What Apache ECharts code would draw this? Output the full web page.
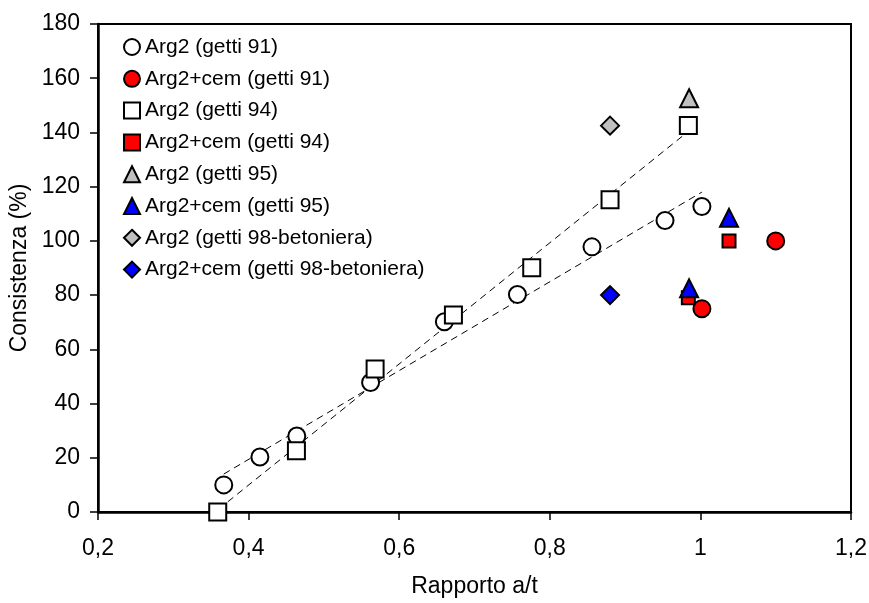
<!DOCTYPE html>
<html>
<head>
<meta charset="utf-8">
<script src="https://cdn.jsdelivr.net/npm/echarts@6/dist/echarts.min.js"></script>
<style>
  html, body { margin: 0; padding: 0; background: #fff; }
  #chart { width: 869px; height: 603px; }
</style>
</head>
<body>
<div id="chart"></div>
<script>
// Consistenza vs rapporto a/t, one array pair per series
const arg2_91_x = [0.367, 0.415, 0.464, 0.562, 0.660, 0.757, 0.856, 0.953, 1.002];
const arg2_91_y = [10, 20.3, 28, 47.8, 70.2, 80.2, 97.8, 107.5, 112.7];

const arg2cem_91_x = [1.100, 1.002];
const arg2cem_91_y = [100, 75];

const arg2_94_x = [0.359, 0.4635, 0.568, 0.672, 0.776, 0.880, 0.984];
const arg2_94_y = [0, 22.6, 52.7, 72.7, 90.1, 115.2, 142.6];

const arg2cem_94_x = [1.038, 0.984];
const arg2cem_94_y = [100, 79];

const arg2_95_x = [0.985];
const arg2_95_y = [152.6];

const arg2cem_95_x = [1.038, 0.985];
const arg2cem_95_y = [108.5, 82.5];

const arg2_98_x = [0.880];
const arg2_98_y = [142.5];

const arg2cem_98_x = [0.880];
const arg2cem_98_y = [80];

// Trend line end points (getti 94 and getti 91)
const trend94_x = [0.36, 0.984];
const trend94_y = [1, 140.4];
const trend91_x = [0.367, 1.002];
const trend91_y = [14, 118];

const xTicks = { min: 0.2, max: 1.2, step: 0.2 };
const yTicks = { min: 0, max: 180, step: 20 };

const narrow = "'Liberation Sans Narrow', 'Arial Narrow', 'Liberation Sans', Arial, sans-serif";
const regular = "'Liberation Sans', Arial, sans-serif";

function pairs(xs, ys) { return xs.map((x, i) => [x, ys[i]]); }

function scatter(name, xs, ys, symbol, size, fill) {
  return {
    name, type: 'scatter', symbol, symbolSize: size,
    data: pairs(xs, ys),
    itemStyle: { color: fill, borderColor: '#000', borderWidth: 2, opacity: 1 },
    emphasis: { disabled: true },
    z: 3
  };
}

function trend(name, xs, ys) {
  return {
    name, type: 'line', data: pairs(xs, ys), symbol: 'none', silent: true,
    lineStyle: { color: '#000', width: 1, type: [7, 5] }, z: 2
  };
}

const names = [
  'Arg2 (getti 91)', 'Arg2+cem (getti 91)',
  'Arg2 (getti 94)', 'Arg2+cem (getti 94)',
  'Arg2 (getti 95)', 'Arg2+cem (getti 95)',
  'Arg2 (getti 98-betoniera)', 'Arg2+cem (getti 98-betoniera)'
];

const chart = echarts.init(document.getElementById('chart'), null, { renderer: 'canvas' });
chart.setOption({
  animation: false,
  backgroundColor: '#fff',
  grid: {
    left: 98, top: 24, right: 18, bottom: 91,
    show: true, borderColor: '#000', borderWidth: 2, backgroundColor: 'transparent',
    containLabel: false, outerBoundsMode: 'none'
  },
  legend: {
    data: names, orient: 'vertical', left: 123, top: 36, padding: 0,
    itemWidth: 16, itemHeight: 16, itemGap: 9.8, selectedMode: false,
    textStyle: { fontFamily: regular, fontSize: 21, color: '#000', lineHeight: 22 }
  },
  xAxis: {
    type: 'value', min: xTicks.min, max: xTicks.max, interval: xTicks.step,
    name: 'Rapporto a/t', nameLocation: 'middle', nameGap: 63,
    nameTextStyle: { fontFamily: narrow, fontSize: 23, color: '#000' },
    axisLine: { show: true, onZero: false, lineStyle: { color: '#000', width: 2.5 } },
    axisTick: { show: true, inside: false, length: 8, lineStyle: { color: '#000', width: 1.5 } },
    axisLabel: {
      margin: 25, fontFamily: narrow, fontSize: 23, color: '#000',
      formatter: v => String(Math.round(v * 10) / 10).replace('.', ',')
    },
    splitLine: { show: false }
  },
  yAxis: {
    type: 'value', min: yTicks.min, max: yTicks.max, interval: yTicks.step,
    name: 'Consistenza (%)', nameLocation: 'middle', nameGap: 50,
    nameTextStyle: { fontFamily: narrow, fontSize: 23, color: '#000' },
    axisLine: { show: true, onZero: false, lineStyle: { color: '#000', width: 2.5 } },
    axisTick: { show: true, inside: false, length: 8, lineStyle: { color: '#000', width: 1.5 } },
    axisLabel: { margin: 18, fontFamily: narrow, fontSize: 23, color: '#000' },
    splitLine: { show: false }
  },
  series: [
    trend('trend94', trend94_x, trend94_y),
    trend('trend91', trend91_x, trend91_y),
    scatter(names[0], arg2_91_x, arg2_91_y, 'circle', 17, '#fff'),
    scatter(names[1], arg2cem_91_x, arg2cem_91_y, 'circle', 17, '#ff0000'),
    scatter(names[2], arg2_94_x, arg2_94_y, 'rect', 17, '#fff'),
    scatter(names[3], arg2cem_94_x, arg2cem_94_y, 'rect', 13, '#ff0000'),
    scatter(names[4], arg2_95_x, arg2_95_y, 'triangle', 18, '#c0c0c0'),
    scatter(names[5], arg2cem_95_x, arg2cem_95_y, 'triangle', 18, '#0000ff'),
    scatter(names[6], arg2_98_x, arg2_98_y, 'diamond', 18, '#c0c0c0'),
    scatter(names[7], arg2cem_98_x, arg2cem_98_y, 'diamond', 18, '#0000ff')
  ]
});
</script>
</body>
</html>
